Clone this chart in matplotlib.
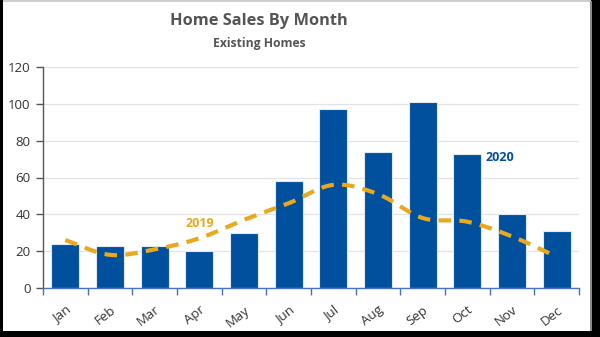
import numpy as np
import matplotlib
matplotlib.use("Agg")
import matplotlib.pyplot as plt
from matplotlib.patches import Rectangle

plt.rcParams['font.family'] = ['Open Sans', 'DejaVu Sans']

months = ["Jan", "Feb", "Mar", "Apr", "May", "Jun",
          "Jul", "Aug", "Sep", "Oct", "Nov", "Dec"]
sales_2020 = [24, 23, 23, 20, 30, 58, 97, 74, 101, 73, 40, 31]
sales_2019 = [26, 18, 21, 27, 37, 46, 56, 51, 38, 36, 28, 17]
y_ticks = [0, 20, 40, 60, 80, 100, 120]

BAR_BLUE = "#00509E"
GOLD = "#E8A820"
TEXT_GRAY = "#555555"


def catmull_rom(x, y, n=30):
    """Smooth curve through the given points for drawing the trend line."""
    x = np.asarray(x, float)
    y = np.asarray(y, float)
    px = np.concatenate([[2 * x[0] - x[1]], x, [2 * x[-1] - x[-2]]])
    py = np.concatenate([[2 * y[0] - y[1]], y, [2 * y[-1] - y[-2]]])
    xs, ys = [], []
    t = np.linspace(0, 1, n, endpoint=False)
    for i in range(1, len(px) - 2):
        for arr, out in ((px, xs), (py, ys)):
            p0, p1, p2, p3 = arr[i - 1], arr[i], arr[i + 1], arr[i + 2]
            out.extend(0.5 * ((2 * p1) + (-p0 + p2) * t
                              + (2 * p0 - 5 * p1 + 4 * p2 - p3) * t ** 2
                              + (-p0 + 3 * p1 - 3 * p2 + p3) * t ** 3))
    xs.append(x[-1])
    ys.append(y[-1])
    return np.array(xs), np.array(ys)


fig = plt.figure(figsize=(6.0, 3.37), dpi=100, facecolor="black")
# white card with a thin gray top edge and right edge
fig.patches.append(Rectangle((3 / 600, 6 / 337), 588 / 600, 331 / 337,
                             transform=fig.transFigure, facecolor="white",
                             edgecolor="none", zorder=-3))
fig.patches.append(Rectangle((3 / 600, 335.5 / 337), 588 / 600, 1.5 / 337,
                             transform=fig.transFigure, facecolor="#cfcfcf",
                             edgecolor="none", zorder=-2))
fig.patches.append(Rectangle((590 / 600, 6 / 337), 1.5 / 600, 330 / 337,
                             transform=fig.transFigure, facecolor="#8a8a8a",
                             edgecolor="none", zorder=-2))

ax = fig.add_axes([43 / 600, 1 - 288 / 337, 536 / 600, 221 / 337])
ax.set_facecolor("white")

x = np.arange(len(months))
ax.bar(x, sales_2020, width=0.62, color=BAR_BLUE, edgecolor="#dfe8f3",
       linewidth=0.8, zorder=2)

sx, sy = catmull_rom(x, sales_2019)
ax.plot(sx, sy, color=GOLD, linewidth=3, linestyle=(0, (3, 2)),
        dash_capstyle="butt", zorder=3)

ax.text(3.0, 35, "2019", color=GOLD, fontsize=9, fontweight="bold",
        ha="center", va="center", zorder=4)
ax.text(9.73, 71, "2020", color=BAR_BLUE, fontsize=9, fontweight="bold",
        ha="center", va="center", zorder=4)

ax.set_xlim(-0.5, 11.5)
ax.set_ylim(0, 120)
ax.set_yticks(y_ticks)
ax.set_yticklabels([str(v) for v in y_ticks], fontsize=9.5, color="#333333")
ax.yaxis.grid(True, color="#e3e3e3", linewidth=0.9, zorder=0)
ax.set_axisbelow(True)

ax.set_xticks(x)
ax.set_xticklabels(months, rotation=38, ha="right", rotation_mode="anchor",
                   fontsize=9.5, color="#333333")
ax.set_xticks(np.arange(-0.5, 12, 1), minor=True)
ax.tick_params(axis="x", which="major", length=0, pad=11)
ax.tick_params(axis="x", which="minor", length=5, color="#4a72b8", width=1)
ax.tick_params(axis="y", length=5, color="#555555", width=1, pad=4)

for side in ("top", "right"):
    ax.spines[side].set_visible(False)
ax.spines["left"].set_color("#555555")
ax.spines["left"].set_linewidth(1)
ax.spines["bottom"].set_color("#4a72b8")
ax.spines["bottom"].set_linewidth(1)

fig.text(259 / 600, 1 - 21 / 337, "Home Sales By Month", ha="center", va="center",
         fontsize=11.8, fontweight="bold", color=TEXT_GRAY)
fig.text(259 / 600, 1 - 44 / 337, "Existing Homes", ha="center", va="center",
         fontsize=8.7, fontweight="bold", color=TEXT_GRAY)

fig.savefig("out.png", dpi=100, facecolor=fig.get_facecolor())
